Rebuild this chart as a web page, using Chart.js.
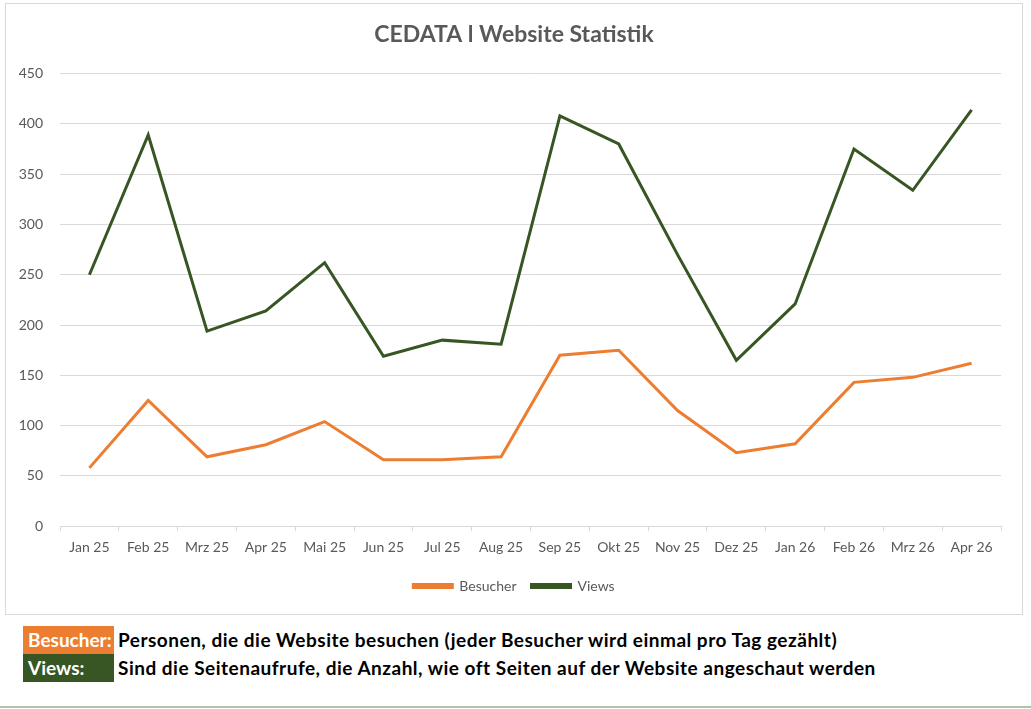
<!DOCTYPE html>
<html>
<head>
<meta charset="utf-8">
<script src="https://cdn.jsdelivr.net/npm/chart.js@4"></script>
<style>
  body { margin: 0; background: #fff; font-family: Lato, "Open Sans", sans-serif; }
  #box { position: absolute; left: 5px; top: 3px; width: 1016px; height: 610px; border: 1px solid #d9d9d9; }
  #box canvas { display: block; }
  .note { position: absolute; left: 23px; height: 28px; line-height: 28px; font-weight: bold; font-size: 19px; letter-spacing: 0.5px; color: #000; white-space: nowrap; }
  .note span { display: inline-block; width: 86px; padding-left: 5px; margin-right: 4px; color: #fff; letter-spacing: 0; }
  #bottomLine { position: absolute; left: 0; top: 706px; width: 1031px; height: 2px; background: #b4c0ae; }
</style>
</head>
<body>
<div id="box"><canvas id="webChart" width="1016" height="610"></canvas></div>
<div class="note" style="top:626px"><span style="background:#ed7d31">Besucher:</span>Personen, die die Website besuchen (jeder Besucher wird einmal pro Tag gezählt)</div>
<div class="note" style="top:654px"><span style="background:#375623">Views:</span>Sind die Seitenaufrufe, die Anzahl, wie oft Seiten auf der Website angeschaut werden</div>
<div id="bottomLine"></div>
<script>
// --- Daten ---
const monate = ['Jan 25', 'Feb 25', 'Mrz 25', 'Apr 25', 'Mai 25', 'Jun 25', 'Jul 25', 'Aug 25',
    'Sep 25', 'Okt 25', 'Nov 25', 'Dez 25', 'Jan 26', 'Feb 26', 'Mrz 26', 'Apr 26'];
const besucher = [58, 125, 69, 81, 104, 66, 66, 69, 170, 175, 115, 73, 82, 143, 148, 162];
const views = [250, 389, 194, 214, 262, 169, 185, 181, 408, 380, 270, 165, 221, 375, 334, 414];

const grau = '#595959';
const ctx = document.getElementById('webChart').getContext('2d');
const webChart = new Chart(ctx, {
    type: 'line',
    data: {
        labels: monate,
        datasets: [{
            label: 'Besucher',
            data: besucher,
            borderColor: '#ed7d31',
            backgroundColor: '#ed7d31',
            borderWidth: 3,
            pointRadius: 0,
            tension: 0
        }, {
            label: 'Views',
            data: views,
            borderColor: '#375623',
            backgroundColor: '#375623',
            borderWidth: 3,
            pointRadius: 0,
            tension: 0
        }]
    },
    options: {
        responsive: false,
        animation: false,
        layout: { padding: { left: 0, right: 0, bottom: 11 } },
        plugins: {
            title: {
                display: true,
                text: 'CEDATA l Website Statistik',
                color: grau,
                font: { family: 'Lato', size: 23, weight: 'bold' },
                padding: { top: 17, bottom: 25 }
            },
            legend: {
                position: 'bottom',
                labels: {
                    color: grau,
                    font: { family: 'Lato', size: 14 },
                    boxWidth: 39,
                    boxHeight: 3,
                    padding: 15
                }
            },
            tooltip: { enabled: false }
        },
        scales: {
            x: {
                offset: true,
                grid: { drawOnChartArea: false, color: '#d9d9d9', tickLength: 5, offset: true },
                border: { color: '#d9d9d9' },
                ticks: { color: grau, font: { family: 'Lato', size: 14 }, padding: 8, maxRotation: 0, autoSkip: false }
            },
            y: {
                min: 0,
                max: 450,
                grid: { color: '#d9d9d9', drawTicks: false },
                border: { display: false },
                ticks: { stepSize: 50, color: grau, font: { family: 'Lato', size: 14 }, padding: 17 },
                afterFit: (scale) => { scale.width = 54; }
            },
            // leere Achse rechts: nur Rand, damit Titel/Legende mittig bleiben
            rechts: {
                type: 'linear',
                position: 'right',
                display: true,
                grid: { display: false },
                border: { display: false },
                ticks: { display: false },
                afterFit: (scale) => { scale.width = 21; }
            }
        }
    }
});
</script>
</body>
</html>
